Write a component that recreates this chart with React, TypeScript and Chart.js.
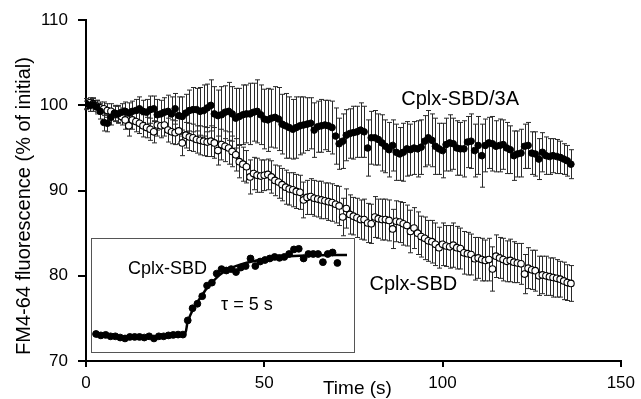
import React, { useEffect, useRef } from "react";
import { Chart, registerables } from "chart.js";

Chart.register(...registerables);

const FONT = '"Liberation Sans", Arial, Helvetica, sans-serif';

// ---- main panel data (time in s, FM4-64 fluorescence % of initial) ----
const filledMean = [
  100.2, 100.0, 100.1, 99.8, 99.3, 98.0, 97.9, 98.6, 99.1, 99.0,
  99.2, 99.3, 99.1, 99.3, 99.4, 99.6, 99.3, 99.2, 99.5, 99.6,
  98.9, 99.0, 99.2, 99.3, 99.0, 99.6, 98.8, 98.7, 99.1, 99.4,
  99.5, 99.5, 99.3, 99.4, 99.7, 100.0, 99.0, 98.8, 98.9, 99.2,
  99.3, 99.0, 98.5, 98.7, 98.9, 99.0, 99.0, 99.2, 99.3, 98.9,
  98.4, 98.3, 98.5, 98.6, 98.4, 97.8, 97.6, 97.4, 97.2, 97.4,
  97.6, 97.7, 97.8, 97.9, 97.1, 97.5, 97.6, 97.7, 97.6, 97.4,
  96.4, 95.5, 95.8, 96.5, 96.7, 96.8, 96.9, 97.1, 96.9, 95.0,
  96.2, 96.2, 96.0, 95.6, 95.2, 94.8, 95.3, 94.5, 94.3, 94.5,
  94.9, 94.8, 95.0, 94.9, 95.1, 95.8, 96.2, 95.9, 95.2, 94.9,
  94.7, 95.4, 95.6, 95.5, 95.0, 94.9, 94.9, 95.7, 95.8, 94.7,
  95.3, 94.1, 95.3, 95.6, 95.5, 95.2, 95.3, 95.4, 95.0, 94.8,
  94.1, 94.3, 94.4, 95.2, 95.3, 94.4, 94.3, 93.7, 94.5, 94.1,
  94.0, 94.1, 94.0, 93.9, 93.7, 93.5, 93.1,
];
const filledErr = [
  0.6, 0.7, 0.8, 0.8, 0.9, 1.0, 1.0, 0.9, 0.9, 1.0,
  1.0, 1.1, 1.2, 1.2, 1.3, 1.4, 1.3, 1.5, 1.6, 1.5,
  1.8, 1.6, 1.7, 1.9, 2.0, 1.8, 2.2, 2.3, 2.2, 2.4,
  2.6, 2.5, 2.8, 3.0, 2.8, 3.0, 3.2, 3.0, 3.3, 3.1,
  3.4, 3.2, 3.5, 3.3, 3.5, 3.4, 3.6, 3.4, 3.7, 3.5,
  3.5, 3.7, 3.4, 3.6, 3.7, 3.5, 3.8, 3.6, 3.5, 3.6,
  3.4, 3.3, 3.1, 3.0, 3.2, 3.0, 3.1, 2.9, 3.0, 3.1,
  3.3, 3.0, 3.2, 3.0, 2.9, 3.1, 3.0, 3.2, 3.0, 3.3,
  3.1, 3.2, 3.0, 3.3, 3.1, 3.2, 3.0, 3.3, 3.1, 3.4,
  3.2, 3.0, 3.1, 3.3, 3.2, 3.0, 3.2, 3.1, 3.3, 3.0,
  3.2, 3.1, 3.3, 3.0, 3.2, 3.1, 3.3, 3.0, 3.2, 3.1,
  3.4, 3.7, 3.1, 3.0, 3.2, 3.0, 3.1, 2.9, 3.0, 2.8,
  2.9, 2.7, 2.8, 2.6, 2.7, 2.5, 2.6, 2.4, 2.3, 2.2,
  2.1, 2.0, 2.0, 1.9, 1.8, 1.8, 1.7,
];
const openMean = [
  100.0, 100.3, 100.2, 99.9, 99.7, 99.6, 99.4, 99.3, 99.0, 98.9,
  98.7, 98.3, 97.6, 98.3, 98.1, 97.9, 97.6, 97.4, 97.2, 96.9,
  97.7, 97.6, 97.7, 97.1, 96.9, 96.8, 97.0, 95.6, 96.5, 96.3,
  96.2, 96.0, 95.9, 95.8, 95.7, 95.8, 95.6, 94.7, 95.4, 95.2,
  95.0, 94.6, 94.2, 93.4, 93.1, 92.8, 91.6, 92.0, 91.8, 91.7,
  91.8, 91.9, 91.6, 91.2, 91.0, 90.7, 90.4, 90.2, 90.1, 89.9,
  89.8, 88.9, 89.2, 89.3, 89.1, 89.0, 88.9, 88.8, 88.7, 88.6,
  88.4, 88.2, 86.9, 87.9, 87.2, 87.0, 86.8, 86.6, 86.6, 86.2,
  86.1, 86.9, 86.7, 86.6, 86.6, 86.5, 85.5, 86.4, 86.3, 86.1,
  85.9, 85.2, 85.6, 85.0, 84.6, 84.4, 84.1, 84.0, 83.7, 83.3,
  83.7, 83.5, 83.4, 83.6, 83.3, 83.2, 82.7, 82.6, 82.5, 82.0,
  82.1, 81.9, 81.8, 81.9, 80.8, 82.3, 82.1, 81.9, 81.7, 81.8,
  81.6, 81.5, 81.4, 80.2, 80.9, 80.7, 80.6, 80.0, 80.1, 80.0,
  79.9, 79.8, 79.7, 79.6, 79.4, 79.2, 79.1,
];
const openErr = [
  0.5, 0.6, 0.6, 0.7, 0.7, 0.8, 0.8, 0.9, 0.9, 1.0,
  1.0, 1.1, 1.2, 1.1, 1.2, 1.2, 1.3, 1.2, 1.3, 1.3,
  1.3, 1.4, 1.3, 1.4, 1.4, 1.4, 1.5, 1.5, 1.5, 1.6,
  1.6, 1.6, 1.7, 1.7, 1.7, 1.8, 1.8, 1.7, 1.8, 1.8,
  1.9, 1.8, 1.9, 1.9, 2.0, 1.9, 2.0, 1.9, 2.0, 1.9,
  1.8, 1.8, 1.9, 1.8, 1.9, 1.9, 2.0, 1.9, 2.0, 2.0,
  2.0, 2.1, 2.0, 2.1, 2.1, 2.1, 2.2, 2.1, 2.2, 2.2,
  2.2, 2.3, 2.2, 2.3, 2.3, 2.2, 2.3, 2.3, 2.4, 2.3,
  2.3, 2.4, 2.3, 2.4, 2.4, 2.4, 2.3, 2.4, 2.4, 2.5,
  2.4, 2.5, 2.4, 2.5, 2.4, 2.5, 2.4, 2.5, 2.5, 2.4,
  2.5, 2.4, 2.5, 2.6, 2.5, 2.4, 2.5, 2.5, 2.4, 2.5,
  2.4, 2.5, 2.4, 2.5, 2.6, 2.5, 2.4, 2.5, 2.4, 2.5,
  2.4, 2.3, 2.4, 2.3, 2.4, 2.3, 2.4, 2.3, 2.2, 2.3,
  2.2, 2.3, 2.2, 2.1, 2.2, 2.1, 2.1,
];
// sampling grid: one frame per second
const timeS = filledMean.map((_, i) => i);

const xTicks = [0, 50, 100, 150];
const yTicks = [70, 80, 90, 100, 110];

const seriesLabels = ["Cplx-SBD/3A", "Cplx-SBD"];
const xTitle = "Time (s)";
const yTitle = "FM4-64 fluorescence (% of initial)";

// ---- inset data (arbitrary units, 1 s frames) ----
const insetDots = [
  11.8, 10.4, 10.9, 9.5, 9.5, 8.3, 7.4, 8.9, 8.9, 8.9,
  8.3, 9.5, 7.4, 9.5, 9.5, 10.4, 10.9, 11.2, 11.2, 25.1,
  37.0, 41.4, 48.8, 59.2, 62.1, 71.0, 75.4, 74.0, 75.4, 72.5,
  76.9, 78.4, 85.8, 78.4, 82.8, 84.3, 85.8, 87.3, 86.4, 87.3,
  90.2, 94.7, 95.3, 85.8, 90.2, 90.2, 90.2, 82.2, 90.2, 91.7,
  81.4,
];
const insetTime = insetDots.map((_, i) => i);
const insetFitT = [0, 18, 19, 20, 21, 22, 23, 24, 25, 26, 27, 28, 30, 33, 36, 40, 45, 52];
const insetFitV = [9.5, 10.0, 24, 35, 43, 50, 57, 62, 67, 71, 74, 76.5, 80, 83.5, 86, 88, 89, 89.3];
const insetLabel = "Cplx-SBD";
const insetTau = "τ = 5 s";

const mainPlugin = {
  id: "mainExtras",
  beforeDatasetsDraw(chart: any) {
    const { ctx } = chart;
    const xs = chart.scales.x;
    const ys = chart.scales.y;
    ctx.save();
    ctx.strokeStyle = "#2a2a2a";
    ctx.lineWidth = 1;
    const draw = (means: number[], errs: number[]) => {
      for (let i = 0; i < means.length; i++) {
        const x = Math.round(xs.getPixelForValue(timeS[i])) + 0.5;
        const y1 = ys.getPixelForValue(means[i] + errs[i]);
        const y2 = ys.getPixelForValue(means[i] - errs[i]);
        ctx.beginPath();
        ctx.moveTo(x, y1);
        ctx.lineTo(x, y2);
        ctx.moveTo(x - 2.5, y1);
        ctx.lineTo(x + 2.5, y1);
        ctx.moveTo(x - 2.5, y2);
        ctx.lineTo(x + 2.5, y2);
        ctx.stroke();
      }
    };
    draw(openMean, openErr);
    draw(filledMean, filledErr);
    ctx.restore();
  },
  afterDraw(chart: any) {
    const { ctx, chartArea } = chart;
    const xs = chart.scales.x;
    const ys = chart.scales.y;
    ctx.save();
    ctx.fillStyle = "#000";
    ctx.font = `20px ${FONT}`;
    ctx.textAlign = "left";
    ctx.textBaseline = "middle";
    ctx.fillText(seriesLabels[0], xs.getPixelForValue(88.4), ys.getPixelForValue(100.7));
    ctx.fillText(seriesLabels[1], xs.getPixelForValue(79.5), ys.getPixelForValue(79.0));
    // axis titles
    ctx.font = `19px ${FONT}`;
    ctx.textAlign = "center";
    ctx.textBaseline = "middle";
    ctx.fillText(xTitle, (chartArea.left + chartArea.right) / 2 + 4, 389);
    ctx.font = `20px ${FONT}`;
    ctx.translate(24, 206);
    ctx.rotate(-Math.PI / 2);
    ctx.fillText(yTitle, 0, 0);
    ctx.restore();
  },
};

const insetPlugin = {
  id: "insetExtras",
  afterDraw(chart: any) {
    const { ctx } = chart;
    const xs = chart.scales.x;
    const ys = chart.scales.y;
    ctx.save();
    ctx.fillStyle = "#000";
    ctx.font = `18px ${FONT}`;
    ctx.textAlign = "left";
    ctx.textBaseline = "middle";
    ctx.fillText(insetLabel, xs.getPixelForValue(6.6), ys.getPixelForValue(75.2));
    ctx.fillText(insetTau, xs.getPixelForValue(25.9), ys.getPixelForValue(39.8));
    ctx.restore();
  },
};

export default function App() {
  const mainRef = useRef<HTMLCanvasElement>(null);
  const insetRef = useRef<HTMLCanvasElement>(null);

  useEffect(() => {
    const axisCommon = {
      type: "linear" as const,
      grid: {
        display: true,
        drawOnChartArea: false,
        drawTicks: true,
        color: "#000",
        lineWidth: 2,
      },
      border: { display: true, color: "#000", width: 2 },
    };
    const main = new Chart(mainRef.current!, {
      type: "scatter",
      data: {
        datasets: [
          {
            label: seriesLabels[0],
            data: timeS.map((t, i) => ({ x: t, y: filledMean[i] })),
            pointRadius: 3.3,
            pointBackgroundColor: "#000",
            pointBorderColor: "#000",
            pointBorderWidth: 1,
            showLine: false,
          },
          {
            label: seriesLabels[1],
            data: timeS.map((t, i) => ({ x: t, y: openMean[i] })),
            pointRadius: 3.3,
            pointBackgroundColor: "#fff",
            pointBorderColor: "#000",
            pointBorderWidth: 1.1,
            showLine: false,
          },
        ],
      },
      options: {
        responsive: false,
        animation: false,
        layout: { padding: { top: 16, right: 14, left: 0, bottom: 0 } },
        plugins: { legend: { display: false }, tooltip: { enabled: false } },
        scales: {
          x: {
            ...axisCommon,
            min: xTicks[0],
            max: xTicks[xTicks.length - 1],
            afterBuildTicks: (s: any) => {
              s.ticks = xTicks.map((v) => ({ value: v }));
            },
            afterFit: (s: any) => {
              s.height = 38;
            },
            grid: { ...axisCommon.grid, tickLength: 6 },
            ticks: { color: "#000", font: { family: FONT, size: 17 }, padding: 6, maxRotation: 0 },
          },
          y: {
            ...axisCommon,
            min: yTicks[0],
            max: yTicks[yTicks.length - 1],
            afterBuildTicks: (s: any) => {
              s.ticks = yTicks.map((v) => ({ value: v }));
            },
            afterFit: (s: any) => {
              s.width = 86;
            },
            grid: { ...axisCommon.grid, tickLength: 8 },
            ticks: { color: "#000", font: { family: FONT, size: 17 }, padding: 10 },
          },
        },
      },
      plugins: [mainPlugin],
    });

    const inset = new Chart(insetRef.current!, {
      type: "scatter",
      data: {
        datasets: [
          {
            label: "dots",
            data: insetTime.map((t, i) => ({ x: t, y: insetDots[i] })),
            pointRadius: 3.4,
            pointBackgroundColor: "#000",
            pointBorderColor: "#000",
            showLine: false,
            clip: false as any,
          },
          {
            label: "fit",
            data: insetFitT.map((t, i) => ({ x: t, y: insetFitV[i] })),
            pointRadius: 0,
            showLine: true,
            borderColor: "#000",
            borderWidth: 2.5,
            tension: 0.3,
            clip: false as any,
          },
        ],
      },
      options: {
        responsive: false,
        animation: false,
        layout: { padding: 0 },
        plugins: { legend: { display: false }, tooltip: { enabled: false } },
        scales: {
          x: { type: "linear", display: false, min: 0.2, max: 52.2 },
          y: { type: "linear", display: false, min: 0, max: 100 },
        },
      },
      plugins: [insetPlugin],
    });

    return () => {
      main.destroy();
      inset.destroy();
    };
  }, []);

  return (
    <div style={{ position: "fixed", left: 0, top: 0, width: 641, height: 399, background: "#fff" }}>
      <canvas ref={mainRef} width={641} height={399} style={{ display: "block" }} />
      <div
        style={{
          position: "absolute",
          left: 91,
          top: 238,
          width: 264,
          height: 115,
          border: "1.5px solid #555",
          boxSizing: "border-box",
          background: "#fff",
        }}
      >
        <canvas ref={insetRef} width={261} height={112} style={{ display: "block" }} />
      </div>
    </div>
  );
}
